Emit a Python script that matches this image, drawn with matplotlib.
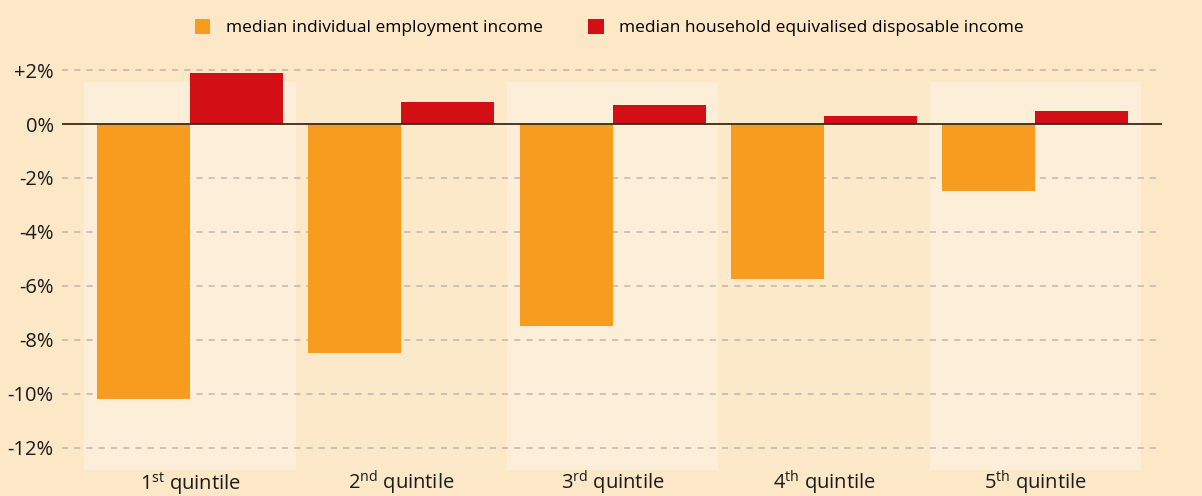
import numpy as np
import matplotlib.pyplot as plt
from matplotlib.patches import Rectangle

# change by income quintile, %
quintiles = ['1$^{\\mathrm{st}}$ quintile', '2$^{\\mathrm{nd}}$ quintile',
             '3$^{\\mathrm{rd}}$ quintile', '4$^{\\mathrm{th}}$ quintile',
             '5$^{\\mathrm{th}}$ quintile']
employment = [-10.2, -8.5, -7.5, -5.75, -2.5]
household = [1.9, 0.8, 0.7, 0.3, 0.5]
yticks = [2, 0, -2, -4, -6, -8, -10, -12]
ytick_labels = ['+2%', '0%', '-2%', '-4%', '-6%', '-8%', '-10%', '-12%']

bg = '#fce7c7'
panel_light = '#fdeed9'
panel_dark = '#fce9ca'
orange = '#f89c1f'
red = '#d20f14'

plt.rcParams['font.family'] = ['Open Sans', 'DejaVu Sans']
plt.rcParams['mathtext.fontset'] = 'custom'
plt.rcParams['mathtext.rm'] = 'Open Sans'

fig = plt.figure(figsize=(12.02, 4.96), dpi=100, facecolor=bg)
ax = fig.add_axes([62 / 1202, 0.0478, 1100 / 1202, 0.8655])
ax.set_facecolor(bg)

x = np.arange(len(quintiles))
w = 0.44

# column panels behind each quintile
for i in x:
    col = panel_light if i % 2 == 0 else panel_dark
    ax.add_patch(Rectangle((i - 0.5, -12.8), 1.0, 14.35, facecolor=col,
                           edgecolor='none', zorder=0))

for v in yticks:
    if v != 0:
        ax.axhline(v, color='#bdb6ae', lw=1.1, ls=(0, (4, 4)), zorder=1)

ax.bar(x - w / 2, employment, width=w, color=orange, zorder=2,
       label='median individual employment income')
ax.bar(x + w / 2, household, width=w, color=red, zorder=2,
       label='median household equivalised disposable income')
ax.axhline(0, color='#3a2a1a', lw=1.3, zorder=3)

ax.set_xlim(-0.606, 4.60)
ax.set_ylim(-12.9, 3.0)
ax.set_yticks(yticks)
ax.set_yticklabels(ytick_labels, fontsize=14.5, color='#1a1a1a')
ax.set_xticks([])
for s in ax.spines.values():
    s.set_visible(False)
ax.tick_params(axis='y', length=0, pad=6)

for i, lab in zip(x, quintiles):
    ax.text(i, -13.3, lab, ha='center', va='center', fontsize=14.5,
            color='#1a1a1a')

leg = fig.legend(loc='upper center', bbox_to_anchor=(0.507, 0.993), ncol=2,
                 frameon=False, fontsize=12.5, handlelength=0.9,
                 handleheight=0.9, columnspacing=2.6, handletextpad=0.9)

fig.savefig('out.png', dpi=100, facecolor=bg)
